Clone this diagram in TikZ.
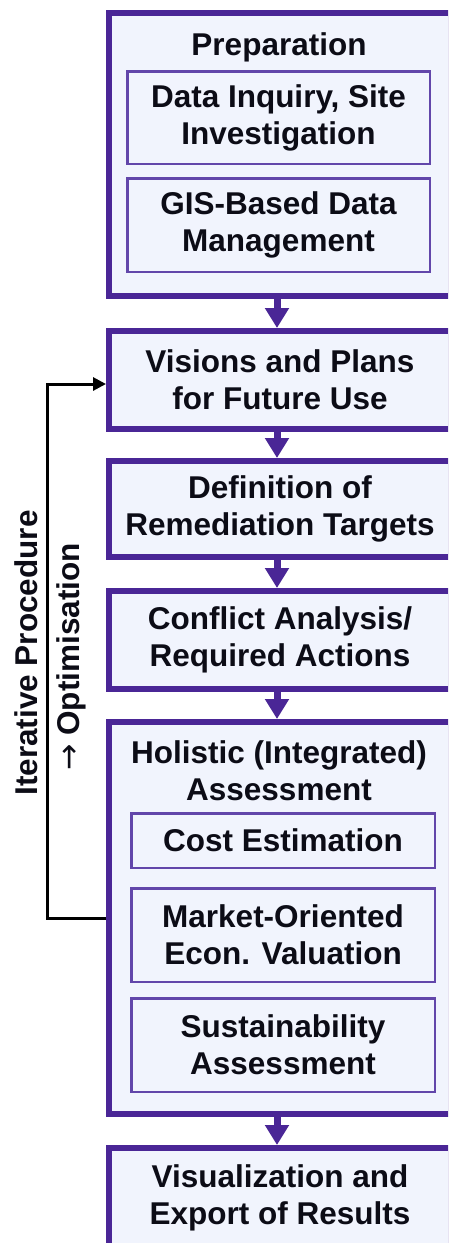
\documentclass[tikz,border=0pt]{standalone}
\usepackage{fontspec}
\setmainfont{Liberation Sans}
\newfontfamily\arrowfont{DejaVu Sans}
\usetikzlibrary{arrows.meta}

\definecolor{flowpurple}{RGB}{74,38,150}
\definecolor{innerpurple}{RGB}{98,70,170}
\definecolor{boxfill}{RGB}{241,244,253}
\definecolor{ink}{RGB}{12,12,22}

\begin{document}
\begin{tikzpicture}[x=1pt,y=-1pt,
  font=\fontsize{31.5}{37}\selectfont\bfseries,
  stage/.style={rectangle, draw=flowpurple, line width=6pt, fill=boxfill,
    minimum width=342pt, text=ink, align=center, inner sep=0pt},
  substage/.style={rectangle, draw=innerpurple, line width=2.5pt, fill=boxfill,
    text=ink, align=center, inner sep=0pt},
  heading/.style={text=ink, align=center, inner sep=0pt},
  flow/.style={draw=flowpurple, line width=7pt, -{Triangle[length=20pt,width=23pt]}},
  loopback/.style={draw=black, line width=3pt, -{Triangle[length=13pt,width=13pt]}},
  sidetext/.style={text=ink, rotate=90, anchor=base, inner sep=0pt}
]
\useasboundingbox (0,0) rectangle (448,1243);
\clip (0,0) rectangle (448,1243);

% main stages (their right edges run up to the frame)
\node[stage, minimum height=283pt] (prep) at (280,154.5) {};
\node[heading, anchor=base] (prept) at (279,55) {Preparation};
\node[substage, minimum width=302.5pt, minimum height=92.5pt] (data) at (278.5,117.5)
  {Data Inquiry, Site\\Investigation};
\node[substage, minimum width=302.5pt, minimum height=93.5pt] (gis) at (278.5,225)
  {GIS-Based Data\\Management};

\node[stage, minimum height=98pt] (vis) at (280,380) {Visions and Plans\\for Future Use};
\node[stage, minimum height=96pt] (def) at (280,509) {Definition of\\Remediation Targets};
\node[stage, minimum height=98pt] (con) at (280,640) {Conflict Analysis/\\Required Actions};

\node[stage, minimum height=392pt] (hol) at (280,918) {};
\node[heading] (holt) at (279,771) {Holistic (Integrated)\\Assessment};
\node[substage, minimum width=303.5pt, minimum height=54.5pt] (cost) at (283,840.5)
  {Cost Estimation};
\node[substage, minimum width=303.5pt, minimum height=93.5pt] (mkt) at (283,935)
  {Market-Oriented\\Econ. Valuation};
\node[substage, minimum width=303.5pt, minimum height=93.5pt] (sus) at (283,1045)
  {Sustainability\\Assessment};

\node[stage, minimum height=100pt] (out) at (280,1198) {Visualization and\\Export of Results};

% flow arrows
\draw[flow] ([xshift=-3pt]prep.south) -- ([xshift=-3pt]vis.north);
\draw[flow] ([xshift=-3pt]vis.south) -- ([xshift=-3pt]def.north);
\draw[flow] ([xshift=-3pt]def.south) -- ([xshift=-3pt]con.north);
\draw[flow] ([xshift=-3pt]con.south) -- ([xshift=-3pt]hol.north);
\draw[flow] ([xshift=-3pt]hol.south) -- ([xshift=-3pt]out.north);

% iteration loop
\draw[loopback] (hol.west) -- ++(-58.5,0) |- ([yshift=-4pt]vis.west);
\node[sidetext] (iter) at (37,653) {Iterative Procedure};
\node[sidetext] (opt) at (79,657) {{\arrowfont\mdseries →} Optimisation};
\end{tikzpicture}
\end{document}
